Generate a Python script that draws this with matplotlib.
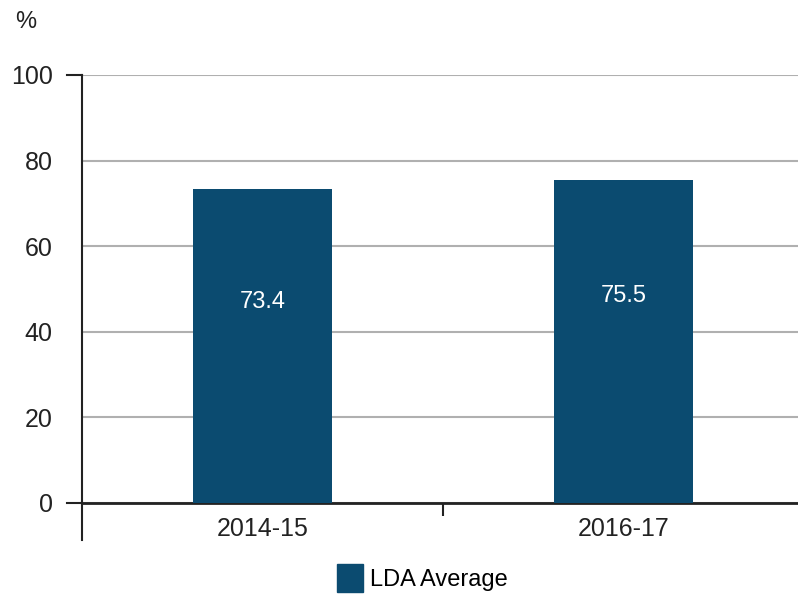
import matplotlib.pyplot as plt
from matplotlib.patches import Patch

# LDA average, per year
years = ['2014-15', '2016-17']
lda_average = [73.4, 75.5]
y_ticks = [0, 20, 40, 60, 80, 100]

bar_color = '#0b4b70'
text_color = '#222222'
plt.rcParams['font.family'] = ['Liberation Sans', 'DejaVu Sans']

fig = plt.figure(figsize=(7.98, 5.94), dpi=100)
ax = fig.add_axes([82 / 798, 91 / 594, 722 / 798, 428 / 594])

x = list(range(len(years)))
ax.bar(x, lda_average, width=0.385, color=bar_color, zorder=3)
for xi, v in zip(x, lda_average):
  ax.text(xi, v * 0.64, f'{v:.1f}', color='white', fontsize=17,
          ha='center', va='center', zorder=4)

ax.set_xlim(-0.5, 1.5)
ax.set_ylim(0, 100)
ax.set_yticks(y_ticks)
ax.set_yticklabels([str(t) for t in y_ticks], fontsize=18, color=text_color)
ax.tick_params(axis='y', which='major', length=0, pad=21)
ax.yaxis.grid(True, color='#b0b0b0', linewidth=1.5, zorder=0)

# short ticks left of the axis at 0 and 100 only
for yv in [0, 100]:
  ax.plot([-15 / 722, 0], [yv, yv], transform=ax.get_yaxis_transform(),
          color=text_color, linewidth=1.5, clip_on=False)

ax.set_xticks(x)
ax.set_xticklabels(years, fontsize=18, color=text_color)
ax.tick_params(axis='x', which='major', length=0, pad=10)
ax.set_xticks([0.5], minor=True)
ax.tick_params(axis='x', which='minor', length=9, width=1.5, color=text_color)

for side in ['top', 'right']:
  ax.spines[side].set_visible(False)
ax.spines['left'].set_linewidth(1.5)
ax.spines['bottom'].set_linewidth(2)
ax.spines['left'].set_color(text_color)
ax.spines['bottom'].set_color(text_color)

# left axis line runs on below the baseline
ax.plot([0, 0], [0, -37 / 428], transform=ax.transAxes, color=text_color,
        linewidth=1.5, clip_on=False)

fig.text(15 / 798, 1 - 22 / 594, '%', fontsize=17, color=text_color,
         va='center', ha='left')

fig.legend(handles=[Patch(color=bar_color, label='LDA Average')],
           loc='center', bbox_to_anchor=(422 / 798, 1 - 578 / 594),
           frameon=False, fontsize=17, handlelength=1.1, handleheight=1.4,
           handletextpad=0.3)

fig.savefig('out.png', dpi=100)
